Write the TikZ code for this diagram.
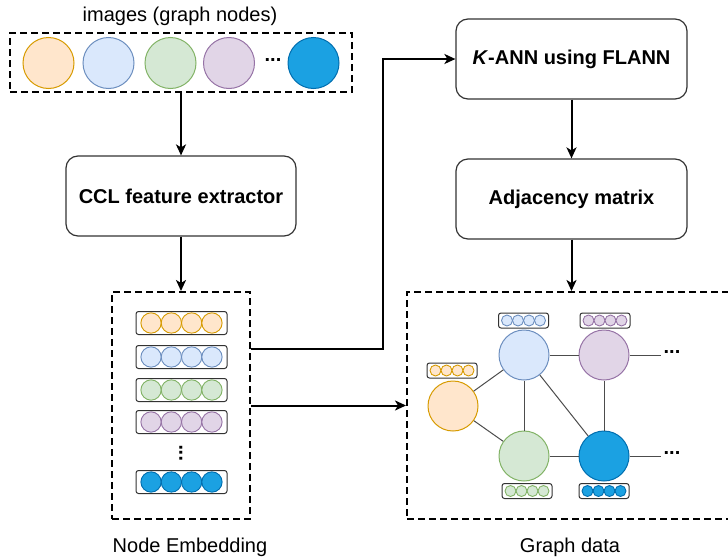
\documentclass[tikz,border=0pt]{standalone}
\usepackage{fontspec}
\setmainfont{Liberation Sans}
\usetikzlibrary{arrows.meta}

% palette
\definecolor{orFill}{HTML}{FFE6CC}\definecolor{orLine}{HTML}{D79B00}
\definecolor{blFill}{HTML}{DAE8FC}\definecolor{blLine}{HTML}{6C8EBF}
\definecolor{grFill}{HTML}{D5E8D4}\definecolor{grLine}{HTML}{82B366}
\definecolor{puFill}{HTML}{E1D5E7}\definecolor{puLine}{HTML}{9673A6}
\definecolor{dbFill}{HTML}{1BA1E2}\definecolor{dbLine}{HTML}{006EAF}

% a feature vector: rounded frame holding four touching circles
% #1 name, #2 x, #3 y, #4 frame width, #5 frame height, #6 circle diameter, #7 fill, #8 stroke
\newcommand{\vecrow}[8]{%
  \node[vecbox, minimum width=#4pt, minimum height=#5pt] (#1) at (#2,#3) {};
  \foreach \k in {1,...,4} {
    \node[circle, inner sep=0pt, minimum size=#6pt, fill=#7, draw=#8, line width=0.9pt]
      (#1-\k) at ([xshift={(\k-2.5)*#6pt}]#1.center) {};
  }%
}

\begin{document}
\begin{tikzpicture}[x=1pt, y=-1pt,
  font=\fontsize{20}{24}\selectfont,
  procbox/.style={draw=black!80, line width=1.2pt, rounded corners=12pt,
    minimum width=231pt, minimum height=80pt, align=center,
    font=\fontsize{20}{24}\selectfont\bfseries},
  groupbox/.style={draw=black, line width=2pt, dash pattern=on 7pt off 4pt, inner sep=0pt},
  flow/.style={draw=black, line width=2pt, -{Stealth[length=11pt,width=10pt,inset=3pt]}},
  bignode/.style={circle, inner sep=0pt, minimum size=51pt, line width=1pt},
  gnode/.style={circle, inner sep=0pt, minimum size=50pt, line width=1pt},
  vecbox/.style={draw=black!80, line width=1pt, rounded corners=2.5pt, inner sep=0pt},
  gedge/.style={draw=black!70, line width=1pt},
  ellip/.style={font=\fontsize{20}{24}\selectfont\bfseries, inner sep=2pt},
  caption/.style={font=\fontsize{20}{24}\selectfont, inner sep=0pt},
]
\useasboundingbox (0,0) rectangle (728,557);
\clip (0,0) rectangle (728,557);

% ---- input images ----
\node[caption] (imgtitle) at (180,16) {images (graph nodes)};
\node[groupbox, minimum width=342pt, minimum height=59pt] (imgbox) at (181,62.5) {};
\node[bignode, fill=orFill, draw=orLine] (img1) at (48.5,63) {};
\node[bignode, fill=blFill, draw=blLine] (img2) at (108.5,63) {};
\node[bignode, fill=grFill, draw=grLine] (img3) at (170.5,63) {};
\node[bignode, fill=puFill, draw=puLine] (img4) at (229,63) {};
\node[ellip] (imgdots) at (273,60) {...};
\node[bignode, fill=dbFill, draw=dbLine] (img5) at (313.5,63) {};

% ---- processing boxes ----
\node[procbox, minimum width=230pt] (ccl) at (181,196) {CCL feature extractor};
\node[procbox] (kann) at (571.5,59) {\textit{K}-ANN using FLANN};
\node[procbox] (adj) at (571.5,199) {Adjacency matrix};

% ---- node embeddings ----
\node[groupbox, minimum width=138pt, minimum height=227pt] (embed) at (181,405.5) {};
\vecrow{e1}{181.5}{323}{91}{23}{20.3}{orFill}{orLine}
\vecrow{e2}{181.5}{357}{91}{23}{20.3}{blFill}{blLine}
\vecrow{e3}{181.5}{390}{91}{23}{20.3}{grFill}{grLine}
\vecrow{e4}{181.5}{422}{91}{23}{20.3}{puFill}{puLine}
\node[ellip, rotate=90] (edots) at (181,453) {...};
\vecrow{e5}{181.5}{482}{91}{23}{20.3}{dbFill}{dbLine}
\node[caption] (embcap) at (190,547) {Node Embedding};

% ---- graph data ----
\node[groupbox, minimum width=328pt, minimum height=227pt] (graph) at (571,405.5) {};
\node[gnode, fill=orFill, draw=orLine] (gO) at (453,406) {};
\node[gnode, fill=blFill, draw=blLine] (gB) at (524,355) {};
\node[gnode, fill=puFill, draw=puLine] (gP) at (604,355) {};
\node[gnode, fill=grFill, draw=grLine] (gG) at (524,456) {};
\node[gnode, fill=dbFill, draw=dbLine] (gD) at (604,456) {};
\node[ellip] (pdots) at (672,352) {...};
\node[ellip] (ddots) at (672,453) {...};

\draw[gedge] (gO) -- (gB);
\draw[gedge] (gO) -- (gG);
\draw[gedge] (gB) -- (gP);
\draw[gedge] (gB) -- (gG);
\draw[gedge] (gB) -- (gD);
\draw[gedge] (gP) -- (gD);
\draw[gedge] (gG) -- (gD);
\draw[gedge] (gP.east) -- (gP.east -| pdots.west);
\draw[gedge] (gD.east) -- (gD.east -| ddots.west);

\vecrow{vO}{452}{370.5}{50}{15}{11}{orFill}{orLine}
\vecrow{vB}{523.5}{320.5}{50}{15}{11}{blFill}{blLine}
\vecrow{vP}{605}{320.5}{50}{15}{11}{puFill}{puLine}
\vecrow{vG}{527}{491}{50}{15}{11}{grFill}{grLine}
\vecrow{vD}{604}{491}{50}{15}{11}{dbFill}{dbLine}
\node[caption] (graphcap) at (570,547) {Graph data};

% ---- flow ----
\draw[flow] (imgbox.south) -- (ccl.north);
\draw[flow] (ccl.south) -- (embed.north);
\draw[flow] ([yshift=56.5pt]embed.east) -- ++(132,0) |- (kann.west);
\draw[flow] (embed.east) -- (graph.west);
\draw[flow] (kann.south) -- (adj.north);
\draw[flow] (adj.south) -- (adj.south |- graph.north);
\end{tikzpicture}
\end{document}
